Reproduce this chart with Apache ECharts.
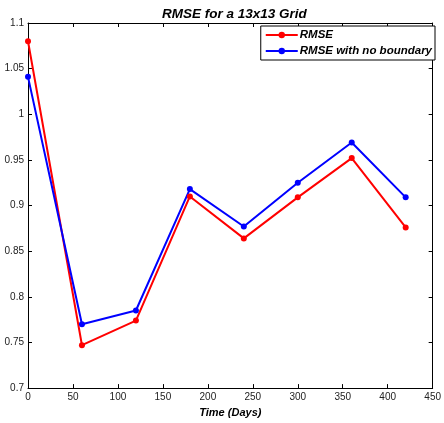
<!DOCTYPE html>
<html>
<head>
<meta charset="utf-8">
<script src="https://cdn.jsdelivr.net/npm/echarts@6/dist/echarts.min.js"></script>
<style>html,body{margin:0;padding:0;background:#fff;}#c{width:444px;height:423px;}</style>
</head>
<body>
<div id="c"></div>
<script>
const days = [0, 60, 120, 180, 240, 300, 360, 420];
const rmse = [1.080, 0.747, 0.774, 0.910, 0.864, 0.909, 0.952, 0.876];
const rmseNoBoundary = [1.041, 0.770, 0.785, 0.918, 0.877, 0.925, 0.969, 0.909];
const seriesNames = ['RMSE', 'RMSE with no boundary'];
const titleText = 'RMSE for a 13x13 Grid';
const xName = 'Time (Days)';

const font = 'Liberation Sans, Arial, Helvetica, sans-serif';
const chart = echarts.init(document.getElementById('c'), null, {renderer: 'canvas'});
const axisCommon = {
  axisLine: {show: true, onZero: false, lineStyle: {color: '#000', width: 1}},
  axisTick: {show: true, inside: true, length: 4, lineStyle: {color: '#000'}},
  splitLine: {show: false}
};
chart.setOption({
  animation: false,
  backgroundColor: '#fff',
  title: {
    text: titleText, left: 157, top: 2,
    textStyle: {fontFamily: font, fontSize: 13.5, fontWeight: 'bold', fontStyle: 'italic', color: '#000'}
  },
  legend: {
    data: seriesNames,
    orient: 'vertical',
    right: 9, top: 26,
    backgroundColor: '#fff',
    borderColor: '#000', borderWidth: 1,
    padding: [3, 3, 3, 4],
    itemGap: 4,
    itemWidth: 32, itemHeight: 8,
    textStyle: {fontFamily: font, fontSize: 11.5, fontWeight: 'bold', fontStyle: 'italic', color: '#000', padding: [0, 0, 0, -3]}
  },
  grid: {left: 28, right: 7, top: 23, bottom: 34, containLabel: false},
  xAxis: [
    Object.assign({}, axisCommon, {
      type: 'value', min: 0, max: 450, interval: 50, position: 'bottom',
      name: xName, nameLocation: 'middle', nameGap: 17,
      nameTextStyle: {fontFamily: font, fontSize: 11, fontWeight: 'bold', fontStyle: 'italic', color: '#000'},
      axisLabel: {fontFamily: font, fontSize: 10, color: '#222', margin: 4, showMaxLabel: true}
    }),
    Object.assign({}, axisCommon, {
      type: 'value', min: 0, max: 450, interval: 50, position: 'top',
      axisLabel: {show: false}
    })
  ],
  yAxis: [
    Object.assign({}, axisCommon, {
      type: 'value', min: 0.7, max: 1.1, interval: 0.05, position: 'left',
      axisLabel: {fontFamily: font, fontSize: 10, color: '#222', margin: 4,
        formatter: v => String(parseFloat(v.toFixed(2)))}
    }),
    Object.assign({}, axisCommon, {
      type: 'value', min: 0.7, max: 1.1, interval: 0.05, position: 'right',
      axisLabel: {show: false}
    })
  ],
  series: [
    {
      name: seriesNames[0], type: 'line',
      data: days.map((d, i) => [d, rmse[i]]),
      color: '#ff0000',
      lineStyle: {width: 2, color: '#ff0000'},
      symbol: 'circle', symbolSize: 6,
      itemStyle: {color: '#ff0000'}
    },
    {
      name: seriesNames[1], type: 'line',
      data: days.map((d, i) => [d, rmseNoBoundary[i]]),
      color: '#0000ff',
      lineStyle: {width: 2, color: '#0000ff'},
      symbol: 'circle', symbolSize: 6,
      itemStyle: {color: '#0000ff'}
    }
  ]
});
</script>
</body>
</html>
